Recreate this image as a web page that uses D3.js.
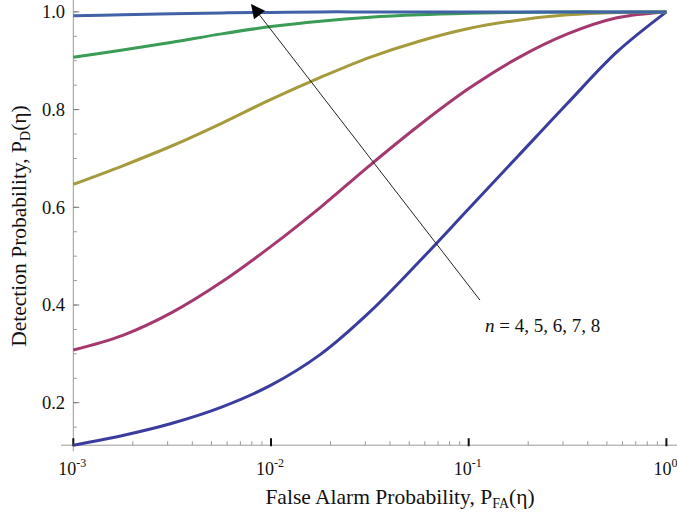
<!DOCTYPE html>
<html>
<head>
<meta charset="utf-8">
<script src="https://cdn.jsdelivr.net/npm/d3@7"></script>
<style>
  body { margin: 0; background: #fff; }
  text { font-family: "Liberation Serif", "Times New Roman", serif; fill: #111; }
</style>
</head>
<body>
<div id="chart"></div>
<script>
// log10 of the false alarm probability, read at every quarter decade
const logPfa = [-3, -2.75, -2.5, -2.25, -2, -1.75, -1.5, -1.25, -1, -0.75, -0.5, -0.25, 0];

// detection probability for n = 4 .. 8
const pdN4 = [0.113, 0.133, 0.158, 0.191, 0.236, 0.299, 0.386, 0.489, 0.597, 0.705, 0.813, 0.918, 1.0];
const pdN5 = [0.308, 0.338, 0.385, 0.447, 0.520, 0.600, 0.686, 0.768, 0.843, 0.906, 0.955, 0.988, 1.0];
const pdN6 = [0.647, 0.685, 0.726, 0.772, 0.821, 0.866, 0.907, 0.940, 0.966, 0.983, 0.994, 0.999, 1.0];
const pdN7 = [0.907, 0.922, 0.938, 0.955, 0.970, 0.981, 0.989, 0.994, 0.997, 0.999, 1.0, 1.0, 1.0];
const pdN8 = [0.992, 0.994, 0.996, 0.998, 0.999, 1.0, 1.0, 1.0, 1.0, 1.0, 1.0, 1.0, 1.0];

const seriesNames = ['n4', 'n5', 'n6', 'n7', 'n8'];
const seriesColors = ['#3b3d9e', '#a5396f', '#a59b3c', '#3a9c55', '#4262a8'];

const yTicks = [0.2, 0.4, 0.6, 0.8, 1.0];
const xDecades = [-3, -2, -1, 0];

// arrow (tail -> tip) and its label, in data units
const arrowPfa = [0.114, 0.0080];
const arrowPd = [0.410, 1.014];
const labelPfa = 0.1208;
const labelPd = 0.345;

const width = 677;
const height = 516;

const svg = d3.select('#chart').append('svg')
  .attr('width', width)
  .attr('height', height);

const x = d3.scaleLog()
  .domain([1e-3, 1])
  .range([73.3, 666.4]);

const y = d3.scaleLinear()
  .domain([0.2, 1.0])
  .range([402.7, 11.9]);

const yMin = 0.113;
const x0 = x(1e-3);
const y0 = y(yMin);

// axis lines
svg.append('line')
  .attr('x1', 61).attr('x2', width)
  .attr('y1', y0).attr('y2', y0)
  .attr('stroke', '#9a9a9a').attr('stroke-width', 1);

svg.append('line')
  .attr('x1', x0).attr('x2', x0)
  .attr('y1', 0).attr('y2', y0 + 6)
  .attr('stroke', '#9a9a9a').attr('stroke-width', 1);

// y ticks, minor every 0.05
const yMinor = d3.range(0.15, 1.0001, 0.05).filter(v => v > yMin);
svg.selectAll('.ytick-minor')
  .data(yMinor)
  .enter().append('line')
    .attr('x1', x0).attr('x2', x0 + 3.5)
    .attr('y1', d => y(d)).attr('y2', d => y(d))
    .attr('stroke', '#9a9a9a');

svg.selectAll('.ytick')
  .data(yTicks)
  .enter().append('line')
    .attr('x1', x0).attr('x2', x0 + 6)
    .attr('y1', d => y(d)).attr('y2', d => y(d))
    .attr('stroke', '#777');

svg.selectAll('.ylabel')
  .data(yTicks)
  .enter().append('text')
    .attr('x', 65)
    .attr('y', d => y(d))
    .attr('dy', '0.35em')
    .attr('text-anchor', 'end')
    .style('font-size', '18.5px')
    .text(d => d.toFixed(1));

// x ticks, minor 2..9 in each decade
const xMinor = [];
xDecades.slice(0, -1).forEach(e => {
  for (let k = 2; k <= 9; k++) xMinor.push(k * Math.pow(10, e));
});

svg.selectAll('.xtick-minor')
  .data(xMinor)
  .enter().append('line')
    .attr('x1', d => x(d)).attr('x2', d => x(d))
    .attr('y1', y0).attr('y2', y0 - 4)
    .attr('stroke', '#9a9a9a');

svg.selectAll('.xtick')
  .data(xDecades)
  .enter().append('line')
    .attr('x1', d => x(Math.pow(10, d))).attr('x2', d => x(Math.pow(10, d)))
    .attr('y1', y0 + 1).attr('y2', y0 - 7)
    .attr('stroke', '#111').attr('stroke-width', 2);

const xLab = svg.selectAll('.xlabel')
  .data(xDecades)
  .enter().append('text')
    .attr('x', d => x(Math.pow(10, d)) - 1)
    .attr('y', 475)
    .attr('text-anchor', 'middle')
    .style('font-size', '18px');

xLab.append('tspan').text('10');
xLab.append('tspan')
  .attr('dy', -8)
  .style('font-size', '12px')
  .text(d => d === 0 ? '0' : '-' + Math.abs(d));

// axis titles
const xTitle = svg.append('text')
  .attr('x', 400)
  .attr('y', 504)
  .attr('text-anchor', 'middle')
  .style('font-size', '21.5px');
xTitle.append('tspan').text('False Alarm Probability, P');
xTitle.append('tspan').attr('dy', 4).style('font-size', '14px').text('FA');
xTitle.append('tspan').attr('dy', -4).text('(\u03b7)');

const yTitle = svg.append('text')
  .attr('transform', 'translate(26,226) rotate(-90)')
  .attr('text-anchor', 'middle')
  .style('font-size', '21.5px');
yTitle.append('tspan').text('Detection Probability, P');
yTitle.append('tspan').attr('dy', 4).style('font-size', '14px').text('D');
yTitle.append('tspan').attr('dy', -4).text('(\u03b7)');

// curves
const line = d3.line()
  .x(d => x(Math.pow(10, d[0])))
  .y(d => y(d[1]))
  .curve(d3.curveCatmullRom.alpha(0.5));

[pdN4, pdN5, pdN6, pdN7, pdN8].forEach((values, i) => {
  svg.append('path')
    .attr('id', 'curve-' + seriesNames[i])
    .attr('d', line(logPfa.map((lp, j) => [lp, values[j]])))
    .style('fill', 'none')
    .style('stroke', seriesColors[i])
    .style('stroke-width', '3px');
});

// arrow
svg.append('defs').append('marker')
  .attr('id', 'head')
  .attr('viewBox', '0 0 10 10')
  .attr('refX', 9).attr('refY', 5)
  .attr('markerWidth', 18).attr('markerHeight', 14)
  .attr('markerUnits', 'userSpaceOnUse')
  .attr('orient', 'auto')
  .append('path')
    .attr('d', 'M0,0 L10,5 L0,10 Z')
    .attr('fill', '#000');

svg.append('line')
  .attr('x1', x(arrowPfa[0])).attr('y1', y(arrowPd[0]))
  .attr('x2', x(arrowPfa[1])).attr('y2', y(arrowPd[1]))
  .attr('stroke', '#222').attr('stroke-width', 1)
  .attr('marker-end', 'url(#head)');

const label = svg.append('text')
  .attr('x', x(labelPfa))
  .attr('y', y(labelPd))
  .style('font-size', '19px');
label.append('tspan').style('font-style', 'italic').text('n');
label.append('tspan').text(' = 4, 5, 6, 7, 8');
</script>
</body>
</html>
